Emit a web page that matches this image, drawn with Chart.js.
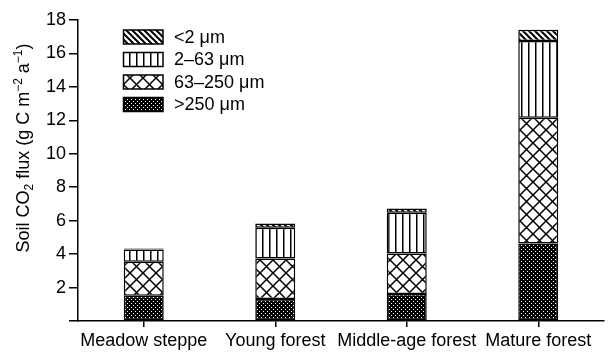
<!DOCTYPE html>
<html><head><meta charset="utf-8">
<script src="https://cdn.jsdelivr.net/npm/chart.js@4.4.1/dist/chart.umd.min.js"></script>
<style>html,body{margin:0;padding:0;background:#fff}#wrap{width:609px;height:353px}</style>
</head><body><div id="wrap"><canvas id="c" width="609" height="353"></canvas></div>
<script>
const categories = ['Meadow steppe', 'Young forest', 'Middle-age forest', 'Mature forest'];
const seriesLabels = ['>250 μm', '63–250 μm', '2–63 μm', '<2 μm'];
const coarse = [1.51, 1.31, 1.61, 4.64];      // >250 μm
const medium = [2.03, 2.43, 2.43, 7.52];      // 63–250 μm
const fine = [0.74, 1.83, 2.43, 4.58];        // 2–63 μm
const clay = [0.05, 0.26, 0.26, 0.67];        // <2 μm
const yTicks = [2, 4, 6, 8, 10, 12, 14, 16, 18];

function pat(type) {
  const c = document.createElement('canvas');
  const x = c.getContext('2d');
  if (type === 'dense') {
    c.width = 4; c.height = 4;
    x.fillStyle = '#000'; x.fillRect(0, 0, 4, 4);
    x.fillStyle = '#fff'; x.fillRect(1, 1, 1, 1); x.fillRect(3, 3, 1, 1);
  } else if (type === 'cross') {
    c.width = 13; c.height = 13;
    x.fillStyle = '#fff'; x.fillRect(0, 0, 13, 13);
    x.strokeStyle = '#000'; x.lineWidth = 1.5;
    x.beginPath();
    x.moveTo(0, 0); x.lineTo(13, 13);
    x.moveTo(13, 0); x.lineTo(0, 13);
    x.stroke();
  } else if (type === 'vert') {
    c.width = 7; c.height = 7;
    x.fillStyle = '#fff'; x.fillRect(0, 0, 7, 7);
    x.fillStyle = '#000'; x.fillRect(3, 0, 1.5, 7);
  } else {
    c.width = 6; c.height = 6;
    x.fillStyle = '#fff'; x.fillRect(0, 0, 6, 6);
    x.strokeStyle = '#000'; x.lineWidth = 2;
    x.beginPath();
    x.moveTo(-1, -1); x.lineTo(7, 7);
    x.moveTo(-4, 2); x.lineTo(4, 10);
    x.moveTo(2, -4); x.lineTo(10, 4);
    x.stroke();
  }
  return document.getElementById('c').getContext('2d').createPattern(c, 'repeat');
}
const patterns = [pat('dense'), pat('cross'), pat('vert'), pat('diag')];
const seriesData = [coarse, medium, fine, clay];

const FONT = '"Liberation Sans", Arial, sans-serif';

const legendPlugin = {
  id: 'customLegend',
  afterDraw(chart) {
    const ctx = chart.ctx;
    ctx.save();
    const rows = [3, 2, 1, 0];
    rows.forEach((di, i) => {
      const cy = 37 + i * 22.5;
      ctx.fillStyle = patterns[di];
      ctx.fillRect(123.5, cy - 7, 39.5, 14);
      ctx.strokeStyle = '#000'; ctx.lineWidth = 1.5;
      ctx.strokeRect(123.5, cy - 7, 39.5, 14);
      ctx.fillStyle = '#000';
      ctx.font = '18px ' + FONT;
      ctx.textBaseline = 'middle';
      ctx.textAlign = 'left';
      ctx.fillText(seriesLabels[di], 174, cy + 1);
    });
    // y-axis title with sub/superscripts
    const parts = [
      ['Soil CO', 18, 0], ['2', 12, 4], [' flux (g C m', 18, 0], ['\u22122', 12, -7],
      [' a', 18, 0], ['\u22121', 12, -7], [')', 18, 0]
    ];
    let total = 0;
    parts.forEach(p => { ctx.font = p[1] + 'px ' + FONT; total += ctx.measureText(p[0]).width; });
    ctx.translate(29, 148);
    ctx.rotate(-Math.PI / 2);
    let xx = -total / 2;
    ctx.textBaseline = 'alphabetic';
    parts.forEach(p => {
      ctx.font = p[1] + 'px ' + FONT;
      ctx.fillText(p[0], xx, p[2]);
      xx += ctx.measureText(p[0]).width;
    });
    ctx.restore();
  }
};

new Chart(document.getElementById('c'), {
  type: 'bar',
  data: {
    labels: categories,
    datasets: seriesData.map((d, i) => ({
      label: seriesLabels[i],
      data: d,
      backgroundColor: patterns[i],
      borderColor: '#000',
      borderWidth: 1.5,
      borderSkipped: false,
      barPercentage: 0.304,
      categoryPercentage: 1.0
    }))
  },
  options: {
    responsive: false,
    animation: false,
    devicePixelRatio: 1,
    layout: { padding: { top: 20, right: 5, left: 0, bottom: 0 } },
    plugins: { legend: { display: false }, tooltip: { enabled: false }, title: { display: false } },
    scales: {
      x: {
        stacked: true,
        offset: true,
        grid: { display: true, drawOnChartArea: false, offset: false, tickLength: 6, color: '#000', lineWidth: 1.5 },
        border: { display: true, color: '#000', width: 1.5 },
        ticks: { color: '#000', font: { size: 18, family: FONT }, padding: 3, maxRotation: 0, autoSkip: false },
        afterFit(s) { s.height = 32; }
      },
      y: {
        stacked: true,
        min: 0, max: 18,
        afterBuildTicks(s) { s.ticks = [0].concat(yTicks).map(v => ({ value: v })); },
        grid: { display: true, drawOnChartArea: false, tickLength: 9, color: '#000', lineWidth: 1.5 },
        border: { display: true, color: '#000', width: 1.5 },
        ticks: {
          color: '#000', font: { size: 18, family: FONT }, padding: 3,
          callback: v => (v === 0 ? '' : String(v))
        },
        afterFit(s) { s.width = 78; }
      }
    }
  },
  plugins: [legendPlugin]
});
</script></body></html>
